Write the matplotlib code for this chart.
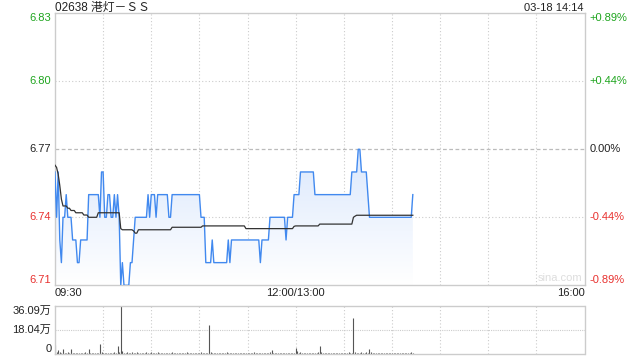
import numpy as np
import matplotlib
matplotlib.use('Agg')
import matplotlib.pyplot as plt
from matplotlib.patches import Polygon
from matplotlib.transforms import blended_transform_factory

plt.rcParams['font.family'] = ['Liberation Sans', 'Noto Sans CJK SC', 'DejaVu Sans']

# header texts
title = '02638 港灯－ＳＳ'
stamp = '03-18 14:14'
prev_close = 6.77

# minute prices from 09:30 (index 0) to 14:14
price = [6.76, 6.74, 6.76, 6.73, 6.72, 6.74, 6.74, 6.75, 6.74, 6.74,
         6.74, 6.73, 6.73, 6.73, 6.72, 6.72, 6.73, 6.73, 6.73, 6.73,
         6.73, 6.75, 6.75, 6.75, 6.75, 6.75, 6.75, 6.75, 6.74, 6.76,
         6.76, 6.74, 6.74, 6.75, 6.75, 6.74, 6.74, 6.75, 6.74, 6.75,
         6.74, 6.71, 6.72, 6.71, 6.71, 6.71, 6.71, 6.72, 6.72, 6.73,
         6.74, 6.74, 6.74, 6.74, 6.74, 6.74, 6.74, 6.74, 6.75, 6.74,
         6.75, 6.75, 6.75, 6.74, 6.75, 6.75, 6.75, 6.75, 6.75, 6.75,
         6.75, 6.74, 6.74, 6.75, 6.75, 6.75, 6.75, 6.75, 6.75, 6.75,
         6.75, 6.75, 6.75, 6.75, 6.75, 6.75, 6.75, 6.75, 6.75, 6.75,
         6.75, 6.74, 6.74, 6.74, 6.72, 6.72, 6.72, 6.72, 6.73, 6.72,
         6.72, 6.72, 6.72, 6.72, 6.72, 6.72, 6.72, 6.72, 6.73, 6.72,
         6.73, 6.73, 6.73, 6.73, 6.73, 6.73, 6.73, 6.73, 6.73, 6.73,
         6.73, 6.73, 6.73, 6.73, 6.73, 6.73, 6.73, 6.73, 6.72, 6.73,
         6.73, 6.73, 6.73, 6.73, 6.74, 6.74, 6.74, 6.74, 6.74, 6.74,
         6.74, 6.74, 6.74, 6.74, 6.73, 6.74, 6.74, 6.74, 6.74, 6.75,
         6.75, 6.75, 6.75, 6.76, 6.76, 6.76, 6.76, 6.76, 6.76, 6.76,
         6.76, 6.76, 6.75, 6.75, 6.75, 6.75, 6.75, 6.75, 6.75, 6.75,
         6.75, 6.75, 6.75, 6.75, 6.75, 6.75, 6.75, 6.75, 6.75, 6.75,
         6.75, 6.75, 6.75, 6.75, 6.75, 6.76, 6.76, 6.76, 6.76, 6.77,
         6.77, 6.76, 6.76, 6.76, 6.76, 6.75, 6.74, 6.74, 6.74, 6.74,
         6.74, 6.74, 6.74, 6.74, 6.74, 6.74, 6.74, 6.74, 6.74, 6.74,
         6.74, 6.74, 6.74, 6.74, 6.74, 6.74, 6.74, 6.74, 6.74, 6.74,
         6.74, 6.74, 6.74, 6.75]

# running average price
avg_price = [6.763, 6.762, 6.759, 6.754, 6.748, 6.745, 6.745, 6.745, 6.744, 6.744,
             6.743, 6.743, 6.743, 6.742, 6.742, 6.742, 6.742, 6.742, 6.741, 6.741,
             6.741, 6.740, 6.740, 6.740, 6.740, 6.740, 6.740, 6.742, 6.742, 6.742,
             6.742, 6.742, 6.742, 6.742, 6.742, 6.742, 6.742, 6.742, 6.742, 6.742,
             6.742, 6.735, 6.7345, 6.7345, 6.7345, 6.7345, 6.7345, 6.7345, 6.7345, 6.734,
             6.733, 6.733, 6.7345, 6.7345, 6.7345, 6.7345, 6.7345, 6.7345, 6.7345, 6.7345,
             6.7345, 6.7345, 6.7345, 6.7345, 6.7345, 6.7345, 6.7345, 6.7345, 6.7345, 6.7345,
             6.7345, 6.7345, 6.7345, 6.7356, 6.7356, 6.7356, 6.7356, 6.7356, 6.7356, 6.7356,
             6.7356, 6.7356, 6.7356, 6.7356, 6.7356, 6.7356, 6.7356, 6.7356, 6.7356, 6.7356,
             6.7356, 6.7356, 6.7362, 6.7362, 6.7362, 6.7362, 6.7362, 6.7362, 6.7362, 6.7362,
             6.7362, 6.7362, 6.7362, 6.7362, 6.7362, 6.7362, 6.7362, 6.7362, 6.7362, 6.7362,
             6.7362, 6.7362, 6.7362, 6.7362, 6.7362, 6.7362, 6.7362, 6.7362, 6.7362, 6.735,
             6.735, 6.735, 6.735, 6.735, 6.735, 6.735, 6.735, 6.735, 6.735, 6.735,
             6.735, 6.735, 6.735, 6.735, 6.735, 6.735, 6.735, 6.735, 6.735, 6.735,
             6.735, 6.735, 6.735, 6.735, 6.735, 6.735, 6.735, 6.735, 6.735, 6.736,
             6.7362, 6.7362, 6.7362, 6.7362, 6.7362, 6.7362, 6.7362, 6.7362, 6.7362, 6.7362,
             6.7362, 6.7362, 6.7362, 6.7362, 6.7362, 6.737, 6.737, 6.737, 6.737, 6.737,
             6.737, 6.737, 6.737, 6.737, 6.737, 6.737, 6.737, 6.737, 6.737, 6.737,
             6.737, 6.737, 6.737, 6.737, 6.737, 6.737, 6.740, 6.7405, 6.7409, 6.7409,
             6.7409, 6.7409, 6.7409, 6.7409, 6.7409, 6.7409, 6.7409, 6.7409, 6.7409, 6.7409,
             6.7409, 6.7409, 6.7409, 6.7409, 6.7409, 6.7409, 6.7409, 6.7409, 6.7409, 6.7409,
             6.7409, 6.7409, 6.7409, 6.7409, 6.7409, 6.7409, 6.7409, 6.7409, 6.7409, 6.7409,
             6.7409, 6.7409, 6.7409, 6.7409]

# minute volume, in 万 shares
volume = [6.7, 1.8, 3.0, 1.2, 0.8, 4.0, 1.0, 0.6, 1.5, 0.7,
          3.5, 0.9, 0.5, 0.8, 0.6, 1.1, 0.7, 0.5, 0.9, 1.2,
          0.6, 3.7, 0.8, 0.5, 1.0, 0.6, 0.4, 0.9, 7.7, 1.3,
          0.8, 0.6, 1.1, 0.5, 0.7, 1.0, 0.6, 1.4, 0.8, 6.0,
          1.5, 36.09, 2.2, 1.0, 0.8, 1.6, 0.6, 0.9, 1.2, 0.5,
          0.8, 1.3, 0.6, 0.9, 0.5, 1.0, 0.7, 1.5, 0.6, 0.8,
          1.2, 0.5, 0.9, 0.7, 1.4, 0.6, 0.8, 0.5, 1.1, 0.7,
          0.6, 0.9, 0.5, 1.8, 0.7, 0.6, 1.0, 0.5, 0.8, 0.6,
          0.9, 0.5, 1.2, 0.6, 0.8, 0.5, 0.7, 1.0, 0.6, 0.9,
          0.5, 1.3, 0.8, 0.6, 1.1, 0.7, 21.7, 1.4, 0.8, 0.6,
          0.9, 0.5, 0.7, 1.0, 0.6, 0.8, 0.5, 1.2, 0.6, 0.9,
          0.5, 0.7, 0.6, 1.0, 0.5, 0.8, 0.6, 0.9, 0.5, 1.1,
          0.6, 0.8, 0.5, 0.7, 1.2, 0.6, 0.9, 0.5, 0.8, 0.6,
          1.0, 0.5, 0.7, 0.9, 1.3, 3.0, 0.8, 0.6, 0.9, 0.5,
          0.7, 1.1, 0.6, 0.8, 0.5, 0.9, 0.6, 0.7, 1.0, 0.8,
          4.7, 2.0, 0.9, 1.3, 0.7, 0.6, 1.0, 0.8, 0.5, 0.9,
          0.6, 0.8, 1.1, 0.7, 1.5, 6.2, 1.2, 0.7, 0.9, 0.6,
          0.8, 0.5, 1.0, 0.6, 0.9, 0.7, 0.5, 1.1, 0.6, 0.8,
          0.5, 0.9, 0.7, 1.2, 0.8, 0.6, 27.1, 1.6, 1.0, 0.7,
          0.9, 1.2, 0.6, 0.8, 1.4, 0.7, 4.0, 1.5, 0.8, 1.0,
          0.6, 0.9, 0.7, 0.5, 1.0, 0.8, 0.6, 0.9, 0.5, 0.7,
          1.1, 0.6, 0.8, 0.5, 0.9, 0.7, 0.6, 1.0, 0.5, 0.8,
          0.6, 0.9, 1.3, 0.7]

price_ticks = [6.71, 6.74, 6.77, 6.80, 6.83]
vol_ticks = [0, 18.04, 36.09]
vol_labels = ['0', '18.04万', '36.09万']
time_labels = ['09:30', '12:00/13:00', '16:00']
time_pos = [0, 150, 330]

GREEN = '#1ea51e'
RED = '#e8312f'
GRID = '#cccccc'
n_total = 330

fig = plt.figure(figsize=(6.4, 3.6), dpi=100)
ax = fig.add_axes([0.0859, 0.2075, 0.8274, 0.7556])
axv = fig.add_axes([0.0859, 0.0167, 0.8274, 0.1342])

x = np.arange(len(price))
ax.set_xlim(0, n_total)
ax.set_ylim(price_ticks[0], price_ticks[-1])

# gradient under the price line
verts = [(0, price_ticks[0])] + list(zip(x, price)) + [(x[-1], price_ticks[0])]
poly = Polygon(verts, closed=True, facecolor='none', edgecolor='none')
ax.add_patch(poly)
top_c = np.array([0.86, 0.91, 0.99])
bot_c = np.array([1.0, 1.0, 1.0])
t = np.linspace(0, 1, 256)[:, None]
img = (bot_c * (1 - t) + top_c * t)[:, None, :]
im = ax.imshow(img, extent=[0, n_total, price_ticks[0], max(price)],
               aspect='auto', origin='lower', zorder=1)
im.set_clip_path(poly)

ax.plot(x, price, color='#4189ef', lw=1.0, zorder=3)
ax.plot(x, avg_price, color='#333333', lw=0.9, zorder=3)

# grid
for v in range(30, n_total, 30):
    ax.axvline(v, color=GRID, lw=0.8, ls=(0, (1, 2)), zorder=0.5)
for p in price_ticks[1:-1]:
    if p == prev_close:
        ax.axhline(p, color='#bbbbbb', lw=0.9, ls=(0, (3, 2)), zorder=0.5)
    else:
        ax.axhline(p, color=GRID, lw=0.8, ls=(0, (1, 2)), zorder=0.5)

for s in ax.spines.values():
    s.set_color(GRID)
    s.set_linewidth(1)
ax.set_xticks([])
ax.set_yticks([])

# price labels left and percent labels right
trans = blended_transform_factory(ax.transAxes, ax.transData)
for i, p in enumerate(price_ticks):
    if p > prev_close + 1e-9:
        c = GREEN
    elif p < prev_close - 1e-9:
        c = RED
    else:
        c = '#222222'
    va = 'center'
    if i == 0:
        va = 'bottom'
    elif i == len(price_ticks) - 1:
        va = 'top'
    pct = (p / prev_close - 1) * 100
    if abs(pct) < 1e-6:
        ptxt = '0.00%'
    else:
        ptxt = '%+.2f%%' % pct
    ax.text(-0.007, p, '%.2f' % p, transform=trans, ha='right', va=va,
            fontsize=8, color=c)
    ax.text(1.010, p, ptxt, transform=trans, ha='left', va=va,
            fontsize=8, color=c)

ax.text(0.995, 0.01, 'sina.com', transform=ax.transAxes, ha='right',
        va='bottom', fontsize=8, color='#dddddd')

fig.text(55 / 640, 1 - 8 / 360, title, ha='left', va='center', fontsize=8.5,
         color='#222222')
fig.text(584 / 640, 1 - 8 / 360, stamp, ha='right', va='center', fontsize=8,
         color='#222222')

# time labels
for lab, pos in zip(time_labels, time_pos):
    xf = (55 + pos * 529.5 / n_total) / 640
    ha = 'center'
    if pos == 0:
        ha = 'left'
    elif pos == n_total:
        ha = 'right'
    fig.text(xf, 1 - 293 / 360, lab, ha=ha, va='center', fontsize=8,
             color='#222222')

# volume panel
axv.set_xlim(0, n_total)
axv.set_ylim(0, vol_ticks[-1])
axv.vlines(np.arange(len(volume)), 0, volume, color='#555555', lw=0.8)
for v in range(30, n_total, 30):
    axv.axvline(v, color=GRID, lw=0.8, ls=(0, (1, 2)), zorder=0.5)
axv.axhline(vol_ticks[1], color=GRID, lw=0.8, ls=(0, (1, 1)), zorder=0.5)
for side in ['top', 'bottom']:
    axv.spines[side].set_linestyle((0, (1, 1)))
for s in axv.spines.values():
    s.set_color(GRID)
    s.set_linewidth(1)
axv.set_xticks([])
axv.set_yticks([])
transv = blended_transform_factory(axv.transAxes, axv.transData)
for i, (vt, vl) in enumerate(zip(vol_ticks, vol_labels)):
    va = 'center'
    if i == 0:
        va = 'bottom'
    elif i == len(vol_ticks) - 1:
        va = 'top'
    axv.text(-0.007, vt, vl, transform=transv, ha='right', va=va,
             fontsize=8, color='#222222')

fig.savefig('out.png', dpi=100)
